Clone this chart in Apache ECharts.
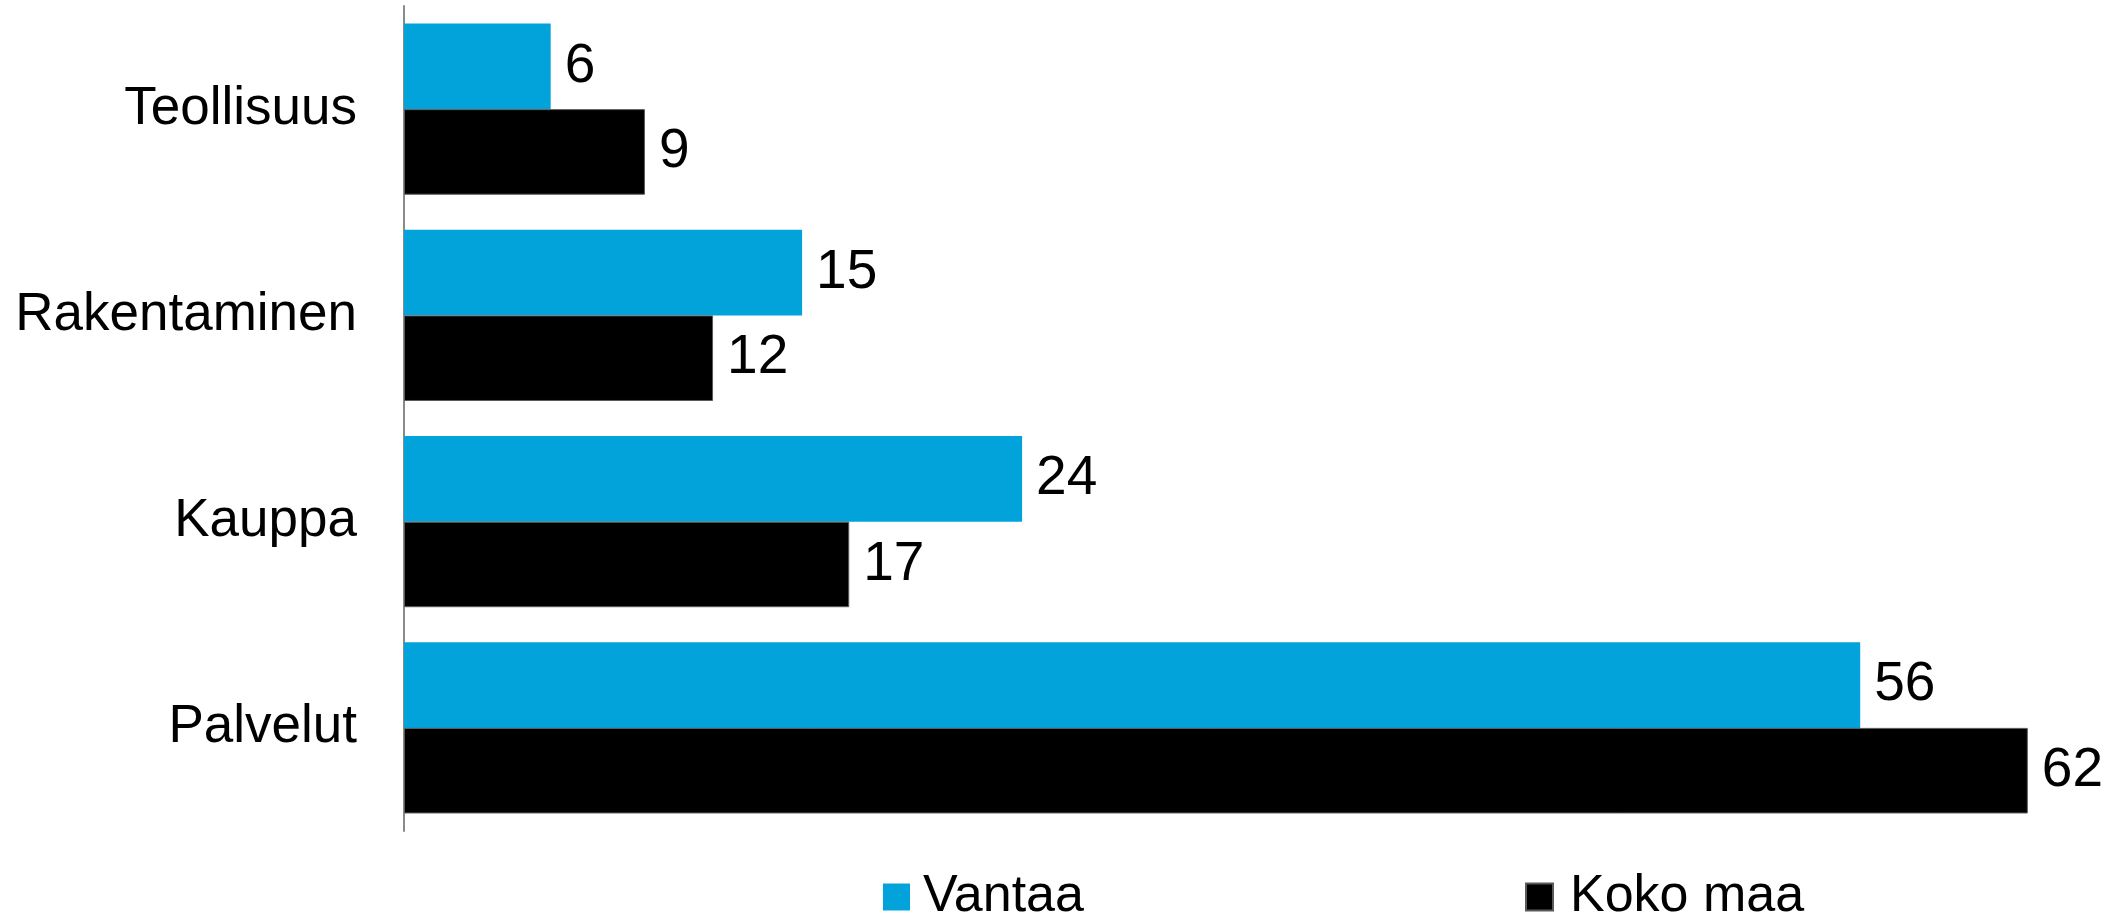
<!DOCTYPE html>
<html>
<head>
<meta charset="utf-8">
<script src="https://cdn.jsdelivr.net/npm/echarts@6/dist/echarts.min.js"></script>
<style>
html,body{margin:0;padding:0;background:#fff;}
#chart{width:2118px;height:919px;}
</style>
</head>
<body>
<div id="chart"></div>
<script>
const categories = ['Teollisuus', 'Rakentaminen', 'Kauppa', 'Palvelut'];
const seriesNames = ['Vantaa', 'Koko maa'];
const vantaa = [5.6, 15.2, 23.6, 55.6];
const kokoMaa = [9.2, 11.8, 17.0, 62.0];

const FONT = '"Liberation Sans", Arial, sans-serif';
const chart = echarts.init(document.getElementById('chart'), null, {renderer: 'canvas'});

const labelOpt = {
  show: true,
  position: 'right',
  distance: 14,
  fontFamily: FONT,
  fontSize: 55,
  color: '#000',
  formatter: p => Math.round(p.value)
};

chart.setOption({
  animation: false,
  backgroundColor: '#fff',
  grid: {left: 404, top: 6, height: 825, width: 1702.4, containLabel: false},
  xAxis: {
    type: 'value', min: 0, max: 65,
    axisLine: {show: false}, axisTick: {show: false},
    axisLabel: {show: false}, splitLine: {show: false}
  },
  yAxis: {
    type: 'category', data: categories, inverse: true,
    axisLine: {show: true, lineStyle: {color: '#8a8a8a', width: 2}},
    axisTick: {show: false},
    axisLabel: {fontFamily: FONT, fontSize: 53, color: '#000', margin: 47}
  },
  legend: [
    {
      data: [seriesNames[0]], left: 883, top: 871, padding: 0,
      itemWidth: 27, itemHeight: 27, icon: 'rect',
      textStyle: {fontFamily: FONT, fontSize: 52, color: '#000', padding: [0, 0, 0, 8]}
    },
    {
      data: [seriesNames[1]], left: 1525, top: 871, padding: 0,
      itemWidth: 27, itemHeight: 27, icon: 'rect',
      textStyle: {fontFamily: FONT, fontSize: 52, color: '#000', padding: [0, 0, 0, 12]}
    }
  ],
  series: [
    {
      name: seriesNames[0], type: 'bar', data: vantaa,
      barGap: '0%', barCategoryGap: '17%',
      itemStyle: {color: '#02A3DA'},
      label: labelOpt
    },
    {
      name: seriesNames[1], type: 'bar', data: kokoMaa,
      barGap: '0%', barCategoryGap: '17%',
      itemStyle: {color: '#000', borderColor: '#5a5a5a', borderWidth: 1},
      label: labelOpt
    }
  ]
});
</script>
</body>
</html>
